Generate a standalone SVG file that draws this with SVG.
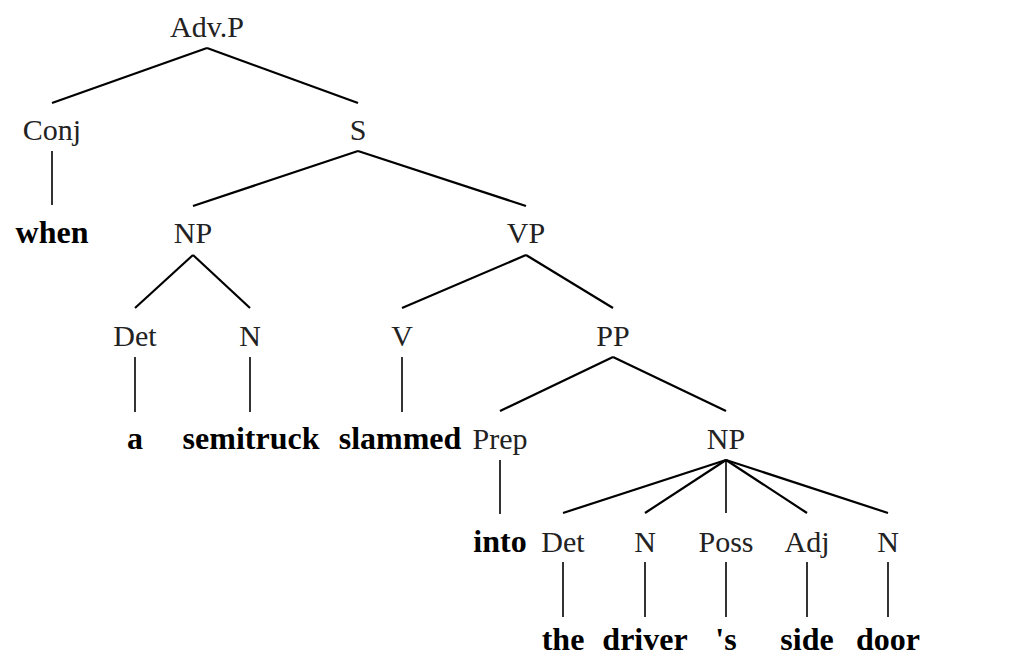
<svg xmlns="http://www.w3.org/2000/svg" width="1010" height="657" viewBox="0 0 1010 657">
<style>
  text { font-family: "Liberation Serif", "Times New Roman", serif; font-size: 30px; text-anchor: middle; }
  .cat { fill: #222; }
  .word { fill: #000; font-weight: bold; font-size: 32px; }
  .edges line { stroke: #000; stroke-width: 2.2; stroke-linecap: butt; }
  .edges line.v { stroke-width: 1.6; }
</style>
<rect width="1010" height="657" fill="#fff"/>
<g id="connectors" class="edges">
  <line x1="207" y1="48" x2="52" y2="103"/>
  <line x1="207" y1="48" x2="358" y2="103"/>
  <line class="v" x1="52" y1="151" x2="52" y2="205"/>
  <line x1="358" y1="151" x2="193" y2="206"/>
  <line x1="358" y1="151" x2="526" y2="206"/>
  <line x1="193" y1="255" x2="135" y2="308"/>
  <line x1="193" y1="255" x2="250" y2="308"/>
  <line x1="526" y1="255" x2="402" y2="308"/>
  <line x1="526" y1="255" x2="613" y2="308"/>
  <line class="v" x1="135" y1="357" x2="135" y2="412"/>
  <line class="v" x1="250" y1="357" x2="250" y2="412"/>
  <line class="v" x1="402" y1="357" x2="402" y2="412"/>
  <line x1="613" y1="357" x2="500" y2="411"/>
  <line x1="613" y1="357" x2="726" y2="411"/>
  <line class="v" x1="500" y1="460" x2="500" y2="514"/>
  <line x1="726" y1="460" x2="563" y2="513"/>
  <line x1="726" y1="460" x2="645" y2="513"/>
  <line class="v" x1="726" y1="460" x2="726" y2="513"/>
  <line x1="726" y1="460" x2="807" y2="513"/>
  <line x1="726" y1="460" x2="888" y2="513"/>
  <line class="v" x1="563" y1="562" x2="563" y2="617"/>
  <line class="v" x1="645" y1="562" x2="645" y2="617"/>
  <line class="v" x1="726" y1="562" x2="726" y2="617"/>
  <line class="v" x1="807" y1="562" x2="807" y2="617"/>
  <line class="v" x1="888" y1="562" x2="888" y2="617"/>
</g>
<g id="n-advp"><text class="cat" x="207" y="37">Adv.P</text></g>
<g id="n-conj"><text class="cat" x="52" y="140">Conj</text></g>
<g id="n-s"><text class="cat" x="358" y="140">S</text></g>
<g id="w-when"><text class="word" x="52" y="243">when</text></g>
<g id="n-np1"><text class="cat" x="193" y="243">NP</text></g>
<g id="n-vp"><text class="cat" x="526" y="243">VP</text></g>
<g id="n-det1"><text class="cat" x="135" y="346">Det</text></g>
<g id="n-n1"><text class="cat" x="250" y="346">N</text></g>
<g id="n-v"><text class="cat" x="402" y="346">V</text></g>
<g id="n-pp"><text class="cat" x="613" y="346">PP</text></g>
<g id="w-a"><text class="word" x="135" y="449">a</text></g>
<g id="w-semitruck"><text class="word" x="251" y="449">semitruck</text></g>
<g id="w-slammed"><text class="word" x="400" y="449">slammed</text></g>
<g id="n-prep"><text class="cat" x="500" y="449">Prep</text></g>
<g id="n-np2"><text class="cat" x="726" y="449">NP</text></g>
<g id="w-into"><text class="word" x="500" y="552">into</text></g>
<g id="n-det2"><text class="cat" x="563" y="552">Det</text></g>
<g id="n-n2"><text class="cat" x="645" y="552">N</text></g>
<g id="n-poss"><text class="cat" x="726" y="552">Poss</text></g>
<g id="n-adj"><text class="cat" x="807" y="552">Adj</text></g>
<g id="n-n3"><text class="cat" x="888" y="552">N</text></g>
<g id="w-the"><text class="word" x="563" y="650">the</text></g>
<g id="w-driver"><text class="word" x="645" y="650">driver</text></g>
<g id="w-s"><text class="word" x="726" y="650">'s</text></g>
<g id="w-side"><text class="word" x="807" y="650">side</text></g>
<g id="w-door"><text class="word" x="888" y="650">door</text></g>
</svg>
